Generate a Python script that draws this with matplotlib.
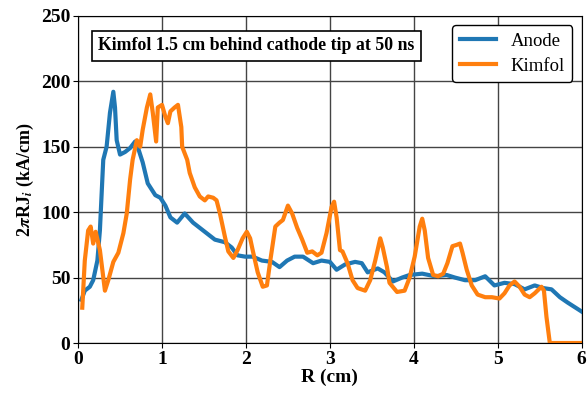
import numpy as np
import matplotlib
matplotlib.use("Agg")
import matplotlib.pyplot as plt

plt.rcParams.update({
    "font.family": ["Liberation Serif", "DejaVu Serif"],
    "mathtext.fontset": "stix",
    "font.weight": "bold",
})

# Anode curve (R in cm, 2piRJ in kA/cm)
anode_r = [0.04, 0.08, 0.14, 0.18, 0.23, 0.26, 0.30, 0.34, 0.38, 0.42, 0.44, 0.46, 0.50,
           0.56, 0.62, 0.68, 0.71, 0.77, 0.83, 0.92, 0.98, 1.04, 1.10, 1.18, 1.27, 1.37,
           1.51, 1.63, 1.75, 1.83, 1.90, 1.99, 2.08, 2.19, 2.31, 2.40, 2.49, 2.58, 2.68,
           2.80, 2.90, 3.00, 3.08, 3.18, 3.30, 3.38, 3.45, 3.57, 3.65, 3.75, 3.86, 3.95,
           4.10, 4.25, 4.39, 4.49, 4.61, 4.73, 4.85, 4.96, 5.08, 5.20, 5.32, 5.44, 5.54,
           5.64, 5.74, 5.83, 6.00]
anode_j = [33, 40, 43, 48, 63, 86, 140, 150, 176, 192, 180, 155, 144,
           146, 149, 154, 150, 138, 122, 113, 111, 105, 96, 92, 99, 92,
           85, 79, 77, 73, 67, 66, 66, 63, 62, 58, 63, 66, 66,
           61, 63, 62, 56, 60, 62, 61, 54, 57, 54, 47, 50, 52,
           53, 51, 52, 50, 48, 48, 51, 44, 46, 45, 41, 44, 42,
           41, 35, 31, 24]

# Kimfol curve
kimfol_r = [0.05, 0.08, 0.12, 0.15, 0.18, 0.21, 0.26, 0.32, 0.36, 0.42, 0.48, 0.54, 0.58,
            0.62, 0.65, 0.70, 0.74, 0.77, 0.82, 0.86, 0.89, 0.93, 0.95, 1.00, 1.04, 1.07,
            1.10, 1.15, 1.19, 1.23, 1.24, 1.30, 1.33, 1.39, 1.45, 1.51, 1.55, 1.61, 1.65,
            1.69, 1.75, 1.79, 1.85, 1.90, 1.96, 2.01, 2.05, 2.08, 2.14, 2.20, 2.25, 2.29,
            2.35, 2.40, 2.44, 2.50, 2.55, 2.61, 2.67, 2.73, 2.79, 2.85, 2.90, 2.96, 3.02,
            3.05, 3.08, 3.12, 3.15, 3.21, 3.27, 3.33, 3.42, 3.48, 3.54, 3.60, 3.63, 3.68,
            3.71, 3.80, 3.89, 3.95, 4.01, 4.07, 4.10, 4.13, 4.17, 4.23, 4.29, 4.35, 4.40,
            4.46, 4.51, 4.55, 4.58, 4.63, 4.69, 4.76, 4.85, 4.93, 5.02, 5.08, 5.14, 5.20,
            5.26, 5.32, 5.38, 5.44, 5.52, 5.55, 5.58, 5.62, 6.00]
kimfol_j = [27, 63, 86, 89, 76, 85, 71, 40, 48, 62, 69, 84, 99,
            125, 140, 155, 150, 163, 180, 190, 176, 154, 180, 182, 173, 168,
            177, 180, 182, 165, 150, 140, 130, 119, 112, 109, 112, 111, 109,
            99, 81, 70, 65, 71, 80, 85, 80, 71, 54, 43, 44, 63,
            89, 92, 94, 105, 99, 88, 79, 69, 70, 67, 69, 84, 104,
            108, 96, 71, 70, 61, 48, 42, 40, 48, 63, 80, 73, 58,
            46, 39, 40, 50, 66, 89, 95, 86, 65, 52, 51, 53, 61,
            74, 75, 76, 69, 56, 44, 37, 35, 35, 34, 38, 44, 47,
            43, 37, 35, 38, 43, 40, 20, 0, 0]

fig = plt.figure(figsize=(5.87, 3.97), dpi=100)
ax = fig.add_axes([0.133, 0.136, 0.858, 0.824])

ax.plot(anode_r, anode_j, color="tab:blue", lw=3, label="Anode")
ax.plot(kimfol_r, kimfol_j, color="tab:orange", lw=3, label="Kimfol")

ax.set_xlim(0, 6)
ax.set_ylim(0, 250)
ax.set_xticks(range(0, 7))
ax.set_yticks(range(0, 251, 50))
ax.grid(True, color="#444444", lw=1)
ax.set_axisbelow(True)
ax.tick_params(labelsize=14, pad=2)
for t in ax.get_xticklabels() + ax.get_yticklabels():
    t.set_fontweight("bold")

ax.set_xlabel("R (cm)", fontsize=14, fontweight="bold", labelpad=1)
ax.set_ylabel("2$\\pi$RJ$_i$ (kA/cm)", fontsize=13, fontweight="bold", labelpad=4)

ax.text(0.04, 0.908, "Kimfol 1.5 cm behind cathode tip at 50 ns", transform=ax.transAxes,
        fontsize=12.8, fontweight="bold", va="center", ha="left",
        bbox=dict(boxstyle="square,pad=0.35", fc="white", ec="black", lw=1.2))

leg = ax.legend(loc="upper right", fontsize=13.5, framealpha=1, edgecolor="black",
                handlelength=1.9, borderaxespad=0.5, labelspacing=0.4)
for t in leg.get_texts():
    t.set_fontweight("normal")

fig.savefig("out.png", dpi=100)
